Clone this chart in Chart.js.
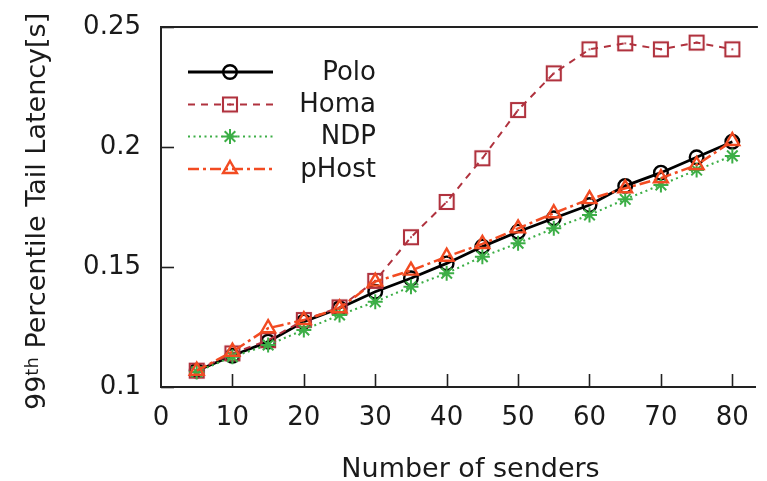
<!DOCTYPE html>
<html>
<head>
<meta charset="utf-8">
<script src="https://cdn.jsdelivr.net/npm/chart.js@4.4.1/dist/chart.umd.min.js"></script>
<style>
html,body{margin:0;padding:0;background:#fff;overflow:hidden;}
#wrap{width:767px;height:481px;position:relative;}
</style>
</head>
<body>
<div id="wrap"><canvas id="c" width="767" height="481"></canvas></div>
<script>
const senders = [5,10,15,20,25,30,35,40,45,50,55,60,65,70,75,80];
const polo  = [0.1068,0.1130,0.1189,0.1272,0.1328,0.1397,0.1453,0.1515,0.1585,0.1647,0.1703,0.1758,0.1838,0.1893,0.1957,0.2022];
const homa  = [0.1068,0.1140,0.1195,0.1279,0.1332,0.1442,0.1624,0.1771,0.1953,0.2154,0.2307,0.2407,0.2432,0.2407,0.2435,0.2407];
const ndp   = [0.1063,0.1126,0.1175,0.1238,0.1300,0.1355,0.1418,0.1474,0.1543,0.1599,0.1661,0.1717,0.1782,0.1842,0.1904,0.1963];
const phost = [0.1068,0.1147,0.1245,0.1279,0.1328,0.1439,0.1485,0.1543,0.1596,0.1661,0.1724,0.1783,0.1828,0.1870,0.1925,0.2025];
const xTicks = [0,10,20,30,40,50,60,70,80];
const yTicks = [0.1,0.15,0.2,0.25];
const yTickLabels = ['0.1','0.15','0.2','0.25'];
const seriesNames = ['Polo','Homa','NDP','pHost'];
const xTitle = 'Number of senders';
const yTitleMain = '99';
const yTitleSup = 'th';
const yTitleRest = ' Percentile Tail Latency[s]';

const FONT = '"DejaVu Sans", sans-serif';
const AXIS = '#222';
const TXT = '#1a1a1a';
const C_POLO = '#000000', C_HOMA = '#b0323e', C_NDP = '#3cae46', C_PHOST = '#f24b22';

function squareDot(color){
  const cv = document.createElement('canvas'); cv.width = 18; cv.height = 18;
  const g = cv.getContext('2d');
  g.strokeStyle = color; g.lineWidth = 2.1;
  g.strokeRect(2,2,14,14);
  g.fillStyle = color; g.fillRect(8.1,8.1,1.8,1.8);
  return cv;
}
const homaPt = squareDot(C_HOMA);

function pts(arr){ return senders.map((s,i)=>({x:s,y:arr[i]})); }

const styles = [
  {color:C_POLO, dash:[], width:2.8, point:'circle', radius:6.8, pbw:2.4},
  {color:C_HOMA, dash:[7,6], width:2, point:homaPt, radius:9, pbw:2.1},
  {color:C_NDP, dash:[2,3.5], width:2.1, point:'star', radius:7.5, pbw:2},
  {color:C_PHOST, dash:[11,4,3,4], width:2.5, point:'triangle', radius:8, pbw:2.4}
];
const dataArr = [polo, homa, ndp, phost];

const datasets = seriesNames.map((n,i)=>({
  label:n, data:pts(dataArr[i]),
  borderColor:styles[i].color, backgroundColor:'rgba(0,0,0,0)',
  borderWidth:styles[i].width, borderDash:styles[i].dash,
  pointStyle:styles[i].point, pointRadius:styles[i].radius,
  pointBorderColor:styles[i].color, pointBackgroundColor:'rgba(0,0,0,0)',
  pointBorderWidth:styles[i].pbw, tension:0, order:3-i
}));

function drawMarker(ctx, i, x, y){
  const s = styles[i];
  ctx.save();
  ctx.strokeStyle = s.color; ctx.lineWidth = s.pbw; ctx.setLineDash([]);
  ctx.beginPath();
  if (i===0){ ctx.arc(x,y,s.radius,0,Math.PI*2); ctx.stroke(); }
  else if (i===1){ ctx.drawImage(homaPt, x-9, y-9); }
  else if (i===2){
    const r = s.radius;
    ctx.moveTo(x-r,y); ctx.lineTo(x+r,y); ctx.moveTo(x,y-r); ctx.lineTo(x,y+r);
    const d = r*Math.SQRT1_2;
    ctx.moveTo(x-d,y-d); ctx.lineTo(x+d,y+d); ctx.moveTo(x-d,y+d); ctx.lineTo(x+d,y-d);
    ctx.stroke();
  } else {
    const r = s.radius;
    const w = r*Math.sqrt(3);
    ctx.moveTo(x, y - r); ctx.lineTo(x + w/2, y + r/2); ctx.lineTo(x - w/2, y + r/2); ctx.closePath(); ctx.stroke();
  }
  ctx.restore();
}

const decor = {
  id:'decor',
  afterDatasetsDraw(chart){
    const ctx = chart.ctx, a = chart.chartArea;
    const xs = chart.scales.x, ys = chart.scales.y;
    ctx.save();
    ctx.strokeStyle = AXIS; ctx.lineWidth = 2; ctx.setLineDash([]);
    // top border
    ctx.beginPath(); ctx.moveTo(a.left-1, a.top); ctx.lineTo(a.right+2, a.top); ctx.stroke();
    // inward ticks
    ctx.lineWidth = 1.6;
    xTicks.forEach(v=>{ if(v===0) return; const px = Math.round(xs.getPixelForValue(v))+0.5;
      ctx.beginPath(); ctx.moveTo(px, a.bottom); ctx.lineTo(px, a.bottom-13); ctx.stroke(); });
    yTicks.forEach(v=>{ const py = Math.round(ys.getPixelForValue(v))+0.5;
      ctx.beginPath(); ctx.moveTo(a.left, py); ctx.lineTo(a.left+13, py); ctx.stroke(); });
    // legend
    const lx0 = 188, lx1 = 273, mx = 230, tx = 376;
    const rows = [72, 104.5, 136.5, 169];
    ctx.font = '26px ' + FONT; ctx.fillStyle = TXT;
    ctx.textAlign = 'right'; ctx.textBaseline = 'middle';
    seriesNames.forEach((n,i)=>{
      const y = rows[i], s = styles[i];
      ctx.save();
      ctx.strokeStyle = s.color; ctx.lineWidth = s.width; ctx.setLineDash(s.dash);
      ctx.beginPath(); ctx.moveTo(lx0, y); ctx.lineTo(lx1, y); ctx.stroke();
      ctx.restore();
      drawMarker(ctx, i, mx, y);
      ctx.fillText(n, tx, y+1);
    });
    // x title
    ctx.font = '27px ' + FONT;
    ctx.textAlign = 'center'; ctx.textBaseline = 'alphabetic';
    ctx.fillText(xTitle, 470.5, 476.5);
    // y title
    ctx.save();
    ctx.translate(45, 410); ctx.rotate(-Math.PI/2);
    ctx.textAlign = 'left';
    ctx.font = '27px ' + FONT;
    ctx.fillText(yTitleMain, 0, 0);
    let w = ctx.measureText(yTitleMain).width;
    ctx.font = '18px ' + FONT;
    ctx.fillText(yTitleSup, w, -7.5);
    w += ctx.measureText(yTitleSup).width;
    ctx.font = '27px ' + FONT;
    ctx.fillText(yTitleRest, w, 0);
    ctx.restore();
    ctx.restore();
  }
};

new Chart(document.getElementById('c'), {
  type:'line',
  data:{datasets},
  options:{
    responsive:false, animation:false,
    layout:{padding:{top:27, right:0, left:0, bottom:0}},
    plugins:{legend:{display:false}, tooltip:{enabled:false}},
    scales:{
      x:{type:'linear', min:0, max:83.3,
        afterBuildTicks(s){ s.ticks = xTicks.map(v=>({value:v})); },
        afterFit(s){ s.height = 94; s.paddingLeft = 0; s.paddingRight = 0; },
        grid:{drawOnChartArea:false, drawTicks:false},
        border:{display:true, color:AXIS, width:2},
        ticks:{padding:16, color:TXT, font:{family:FONT, size:26}, maxRotation:0, autoSkip:false}
      },
      y:{type:'linear', min:0.1, max:0.25,
        afterBuildTicks(s){ s.ticks = yTicks.map(v=>({value:v})); },
        afterFit(s){ s.width = 161; s.paddingTop = 0; s.paddingBottom = 0; },
        grid:{drawOnChartArea:false, drawTicks:false},
        border:{display:true, color:AXIS, width:2},
        ticks:{padding:20, color:TXT, font:{family:FONT, size:26},
          callback:(v)=>{ const k = yTicks.findIndex(t=>Math.abs(t-v)<1e-9); return k>=0 ? yTickLabels[k] : ''; }}
      }
    }
  },
  plugins:[decor]
});
</script>
</body>
</html>
